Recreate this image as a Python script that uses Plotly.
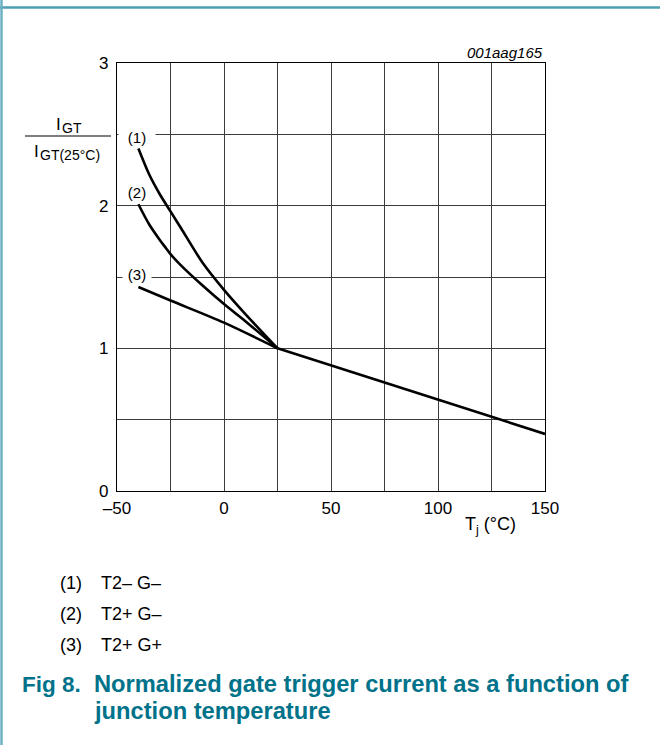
import plotly.graph_objects as go

# ---- data ----
t1 = [-40, -35, -30, -25, -20, -10, 0, 10, 25]
i1 = [2.40, 2.22, 2.08, 1.96, 1.84, 1.60, 1.41, 1.24, 1.00]
t2 = [-40, -35, -30, -27, -25, -20, -10, 0, 10, 25]
i2 = [2.01, 1.87, 1.76, 1.70, 1.66, 1.58, 1.44, 1.31, 1.19, 1.00]
t3 = [-40, -25, 0, 25]
i3 = [1.43, 1.335, 1.18, 1.00]
t_common = [25, 150]
i_common = [1.00, 0.40]

x_ticks = [-50, 0, 50, 100, 150]
x_text = ["\u201350", "0", "50", "100", "150"]
y_ticks = [0, 1, 2, 3]
y_text = ["0", "1", "2", "3"]

curve_labels = ["(1)", "(2)", "(3)"]
legend_names = ["T2\u2013 G\u2013", "T2+ G\u2013", "T2+ G+"]

W, H = 660, 745
L, R, T, B = 117, 545, 63, 491
FONT = "Liberation Sans, Arial, sans-serif"
TEAL = "#00728a"


def px(x):
    return (x - L) / (R - L)


def py(y):
    return (B - y) / (B - T)


fig = go.Figure()
line_style = dict(color="black", width=2.6)
for t, v in [(t1, i1), (t2, i2), (t3, i3)]:
    fig.add_trace(go.Scatter(x=t, y=v, mode="lines", line=dict(shape="spline", smoothing=0.8, **line_style),
                             showlegend=False, hoverinfo="skip"))
fig.add_trace(go.Scatter(x=t_common, y=i_common, mode="lines", line=line_style,
                         showlegend=False, hoverinfo="skip"))

ann = []
# curve labels with white background to break gridlines
lab_pos = [(-40.6, 2.48, 34), (-40.6, 2.09, 24), (-40.6, 1.52, 26)]
for (x, y, w), txt in zip(lab_pos, curve_labels):
    ann.append(dict(x=x, y=y, xref="x", yref="y", text=txt, showarrow=False, bgcolor="white",
                    width=w, font=dict(size=15, color="black", family=FONT)))

# y axis fraction label
ann.append(dict(x=px(58), y=py(125), xref="paper", yref="paper", text="I", showarrow=False,
                xanchor="center", yanchor="middle", font=dict(size=17, color="black", family=FONT)))
ann.append(dict(x=px(60), y=py(128), xref="paper", yref="paper", text="GT", showarrow=False,
                xanchor="left", yanchor="middle", font=dict(size=14, color="black", family=FONT)))
ann.append(dict(x=px(36), y=py(151), xref="paper", yref="paper", text="I", showarrow=False,
                xanchor="center", yanchor="middle", font=dict(size=17, color="black", family=FONT)))
ann.append(dict(x=px(38), y=py(155), xref="paper", yref="paper", text="GT(25\u00b0C)", showarrow=False,
                xanchor="left", yanchor="middle", font=dict(size=14, color="black", family=FONT)))

# x axis title
ann.append(dict(x=px(490), y=py(525), xref="paper", yref="paper", text="T<sub>j</sub> (\u00b0C)",
                showarrow=False, xanchor="center", yanchor="middle",
                font=dict(size=18, color="black", family=FONT)))
# figure code
ann.append(dict(x=px(545), y=py(53), xref="paper", yref="paper", text="<i>001aag165</i>",
                showarrow=False, xanchor="right", yanchor="middle",
                font=dict(size=15, color="black", family=FONT)))

# legend text
for k, (lab, name) in enumerate(zip(curve_labels, legend_names)):
    yy = 583 + 31 * k
    ann.append(dict(x=px(58), y=py(yy), xref="paper", yref="paper", text=lab, showarrow=False,
                    xanchor="left", yanchor="middle", font=dict(size=18, color="black", family=FONT)))
    ann.append(dict(x=px(99), y=py(yy), xref="paper", yref="paper", text=name, showarrow=False,
                    xanchor="left", yanchor="middle", font=dict(size=18, color="black", family=FONT)))

# caption
ann.append(dict(x=px(20), y=py(684), xref="paper", yref="paper", text="<b>Fig 8.</b>", showarrow=False,
                xanchor="left", yanchor="middle", font=dict(size=22.5, color=TEAL, family=FONT)))
ann.append(dict(x=px(92), y=py(684), xref="paper", yref="paper",
                text="<b>Normalized gate trigger current as a function of</b>", showarrow=False,
                xanchor="left", yanchor="middle", font=dict(size=23.7, color=TEAL, family=FONT)))
ann.append(dict(x=px(92), y=py(711), xref="paper", yref="paper",
                text="<b>junction temperature</b>", showarrow=False,
                xanchor="left", yanchor="middle", font=dict(size=23.7, color=TEAL, family=FONT)))

shapes = [
    # fraction bar
    dict(type="line", xref="paper", yref="paper", x0=px(25), x1=px(111), y0=py(136), y1=py(136),
         line=dict(color="black", width=1.2)),
    # page frame (top and left)
    dict(type="line", xref="paper", yref="paper", x0=px(0), x1=px(W), y0=py(7.5), y1=py(7.5),
         line=dict(color="#4f9fb2", width=2.5)),
    dict(type="line", xref="paper", yref="paper", x0=px(1.5), x1=px(1.5), y0=py(0), y1=py(H),
         line=dict(color="#6db2c2", width=2.5)),
]

fig.update_layout(
    width=W, height=H, autosize=False,
    margin=dict(l=L, r=W - R, t=T, b=H - B, pad=0),
    paper_bgcolor="white", plot_bgcolor="white",
    annotations=ann, shapes=shapes,
    font=dict(family=FONT, color="black"),
)
grid = dict(showgrid=True, gridcolor="#3c3c3c", gridwidth=1)
fig.update_xaxes(range=[-50, 150], tickmode="array", tickvals=x_ticks, ticktext=x_text,
                 zeroline=False, showline=True, linecolor="black", linewidth=1.2, mirror=True,
                 ticks="", tickfont=dict(size=17, color="black", family=FONT), ticklabelstandoff=1,
                 minor=dict(tick0=-50, dtick=25, **grid), **grid)
fig.update_yaxes(range=[0, 3], tickmode="array", tickvals=y_ticks, ticktext=y_text,
                 zeroline=False, showline=True, linecolor="black", linewidth=1.2, mirror=True,
                 ticks="", tickfont=dict(size=17, color="black", family=FONT), ticklabelstandoff=4,
                 minor=dict(tick0=0, dtick=0.5, **grid), **grid)

fig.write_html("out.html", config={"displayModeBar": False, "staticPlot": True},
               post_script="document.body.style.margin='0px';document.body.style.overflow='hidden';")
